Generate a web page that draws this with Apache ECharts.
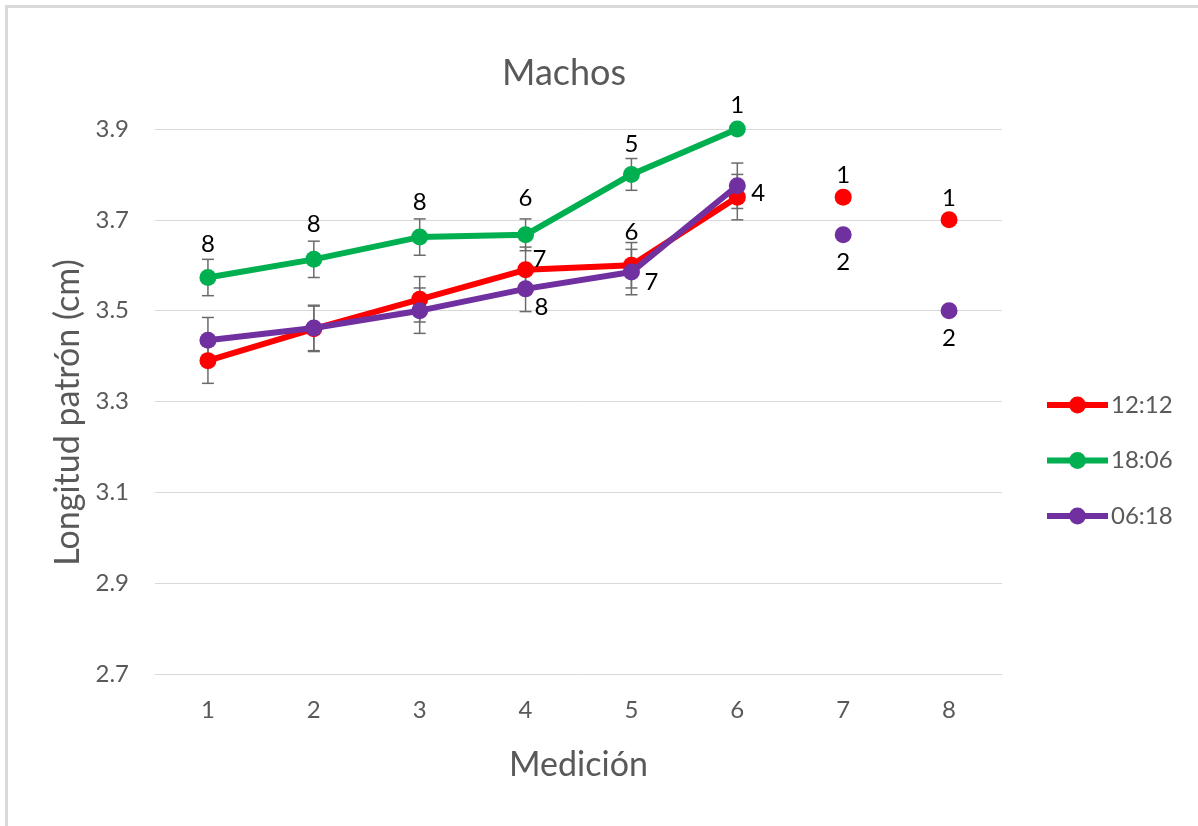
<!DOCTYPE html>
<html>
<head>
<meta charset="utf-8">
<script src="https://cdn.jsdelivr.net/npm/echarts@6/dist/echarts.min.js"></script>
<style>
  html, body { margin: 0; padding: 0; background: #fff; }
  #chart { width: 1198px; height: 826px; }
</style>
</head>
<body>
<div id="chart"></div>
<script>
// Mediciones (eje X) y marcas del eje Y
const mediciones = ['1', '2', '3', '4', '5', '6', '7', '8'];
const marcasY = [2.7, 2.9, 3.1, 3.3, 3.5, 3.7, 3.9];

// Longitud patrón media (cm) por fotoperiodo
const media1212 = [3.39, 3.46, 3.525, 3.59, 3.60, 3.75, 3.75, 3.70];
const media1806 = [3.573, 3.613, 3.662, 3.667, 3.80, 3.90, null, null];
const media0618 = [3.435, 3.462, 3.50, 3.548, 3.585, 3.775, 3.667, 3.50];

// Error estándar
const ee1212 = [0.05, 0.05, 0.05, 0.05, 0.05, 0.05, null, null];
const ee1806 = [0.04, 0.04, 0.04, 0.035, 0.035, null, null, null];
const ee0618 = [0.05, 0.05, 0.05, 0.05, 0.05, 0.05, null, null];

// Tamaño de muestra (n) mostrado junto a cada punto
const n1212 = [null, null, null, 7, 6, 4, 1, 1];
const n1806 = [8, 8, 8, 6, 5, 1, null, null];
const n0618 = [null, null, null, 8, 7, null, 2, 2];

// Las mediciones 1-6 van unidas por línea; 7 y 8 son puntos sueltos
const tramoUnido = 6;

const grupos = [
  { nombre: '12:12', color: '#ff0000', media: media1212, ee: ee1212, n: n1212,
    desplaz: { 3: [14, -11], 4: [0, -33], 5: [21, -4], 6: [0, -22], 7: [0, -22] } },
  { nombre: '18:06', color: '#00b050', media: media1806, ee: ee1806, n: n1806,
    desplaz: { 0: [0, -33], 1: [0, -35], 2: [0, -35], 3: [0, -37], 4: [0, -30], 5: [0, -24] } },
  { nombre: '06:18', color: '#7030a0', media: media0618, ee: ee0618, n: n0618,
    desplaz: { 3: [16, 18], 4: [20, 10], 6: [0, 27], 7: [0, 28] } }
];

const FUENTE = 'Lato, "Open Sans", sans-serif';
const GRIS = '#595959';

function etiqueta(g, i) {
  if (g.n[i] == null) return undefined;
  const off = g.desplaz[i] || [0, -30];
  return {
    show: true,
    position: 'inside',
    offset: off,
    formatter: String(g.n[i]),
    color: '#000',
    fontSize: 24,
    fontFamily: FUENTE
  };
}

function puntos(g, desde, hasta) {
  return mediciones.map((m, i) => {
    if (i < desde || i >= hasta || g.media[i] == null) return '-';
    const item = { value: g.media[i] };
    const lab = etiqueta(g, i);
    if (lab) item.label = lab;
    return item;
  });
}

function barrasError(g) {
  const datos = [];
  g.ee.forEach((e, i) => {
    if (e != null && g.media[i] != null) datos.push([i, g.media[i] - e, g.media[i] + e]);
  });
  return {
    type: 'custom',
    silent: true,
    z: 1,
    data: datos,
    encode: { x: 0, y: [1, 2] },
    renderItem: function (params, api) {
      const x = api.value(0);
      const lo = api.coord([x, api.value(1)]);
      const hi = api.coord([x, api.value(2)]);
      const w = 6;
      const estilo = { stroke: '#6b6b6b', lineWidth: 1.5 };
      return {
        type: 'group',
        children: [
          { type: 'line', shape: { x1: lo[0], y1: lo[1], x2: hi[0], y2: hi[1] }, style: estilo },
          { type: 'line', shape: { x1: lo[0] - w, y1: lo[1], x2: lo[0] + w, y2: lo[1] }, style: estilo },
          { type: 'line', shape: { x1: hi[0] - w, y1: hi[1], x2: hi[0] + w, y2: hi[1] }, style: estilo }
        ]
      };
    }
  };
}

const series = [];
grupos.forEach(g => series.push(barrasError(g)));
grupos.forEach((g, k) => {
  series.push({
    name: g.nombre,
    type: 'line',
    z: 3 + k,
    data: puntos(g, 0, tramoUnido),
    symbol: 'circle',
    symbolSize: 17,
    showAllSymbol: true,
    color: g.color,
    lineStyle: { width: 6, color: g.color },
    itemStyle: { color: g.color, opacity: 1 },
    emphasis: { disabled: true },
    animation: false
  });
  series.push({
    name: g.nombre + ' ',
    type: 'scatter',
    z: 3 + k,
    data: puntos(g, tramoUnido, mediciones.length),
    symbol: 'circle',
    symbolSize: 17,
    itemStyle: { color: g.color, opacity: 1 },
    emphasis: { disabled: true },
    animation: false
  });
});

const chart = echarts.init(document.getElementById('chart'));
chart.setOption({
  animation: false,
  backgroundColor: '#fff',
  title: {
    text: 'Machos',
    left: 497,
    top: 50,
    textStyle: { color: GRIS, fontSize: 36, fontWeight: 'normal', fontFamily: FUENTE }
  },
  legend: {
    data: grupos.map(g => g.nombre),
    orient: 'vertical',
    left: 1039,
    top: 388,
    itemWidth: 61,
    itemHeight: 21,
    itemGap: 31.5,
    lineStyle: { width: 6 },
    textStyle: { color: GRIS, fontSize: 24, fontFamily: FUENTE, padding: [0, 0, 0, -2] },
    selectedMode: false
  },
  graphic: [
    { type: 'rect', shape: { x: 5, y: 5, width: 1193, height: 3 }, style: { fill: '#d9d9d9' }, silent: true },
    { type: 'rect', shape: { x: 5, y: 5, width: 3, height: 821 }, style: { fill: '#d9d9d9' }, silent: true }
  ],
  grid: { left: 155, right: 196, top: 129, bottom: 152 },
  xAxis: {
    type: 'category',
    data: mediciones,
    boundaryGap: true,
    name: 'Medición',
    nameLocation: 'middle',
    nameGap: 74,
    nameTextStyle: { color: GRIS, fontSize: 34, fontFamily: FUENTE },
    axisLine: { lineStyle: { color: '#d9d9d9', width: 1 } },
    axisTick: { show: false },
    axisLabel: { color: GRIS, fontSize: 24, fontFamily: FUENTE, margin: 24 },
    splitLine: { show: false }
  },
  yAxis: {
    type: 'value',
    min: 2.7,
    max: 3.9,
    name: 'Longitud patrón (cm)',
    nameLocation: 'middle',
    nameGap: 60,
    nameTextStyle: { color: GRIS, fontSize: 34, fontFamily: FUENTE, padding: [0, 22, 0, 0] },
    axisLine: { show: false },
    axisTick: { show: false, customValues: marcasY },
    axisLabel: {
      customValues: marcasY,
      color: GRIS, fontSize: 24, fontFamily: FUENTE, margin: 26,
      formatter: v => v.toFixed(1)
    },
    splitLine: { show: true, lineStyle: { color: '#d9d9d9', width: 1 } }
  },
  series: series
});
</script>
</body>
</html>
